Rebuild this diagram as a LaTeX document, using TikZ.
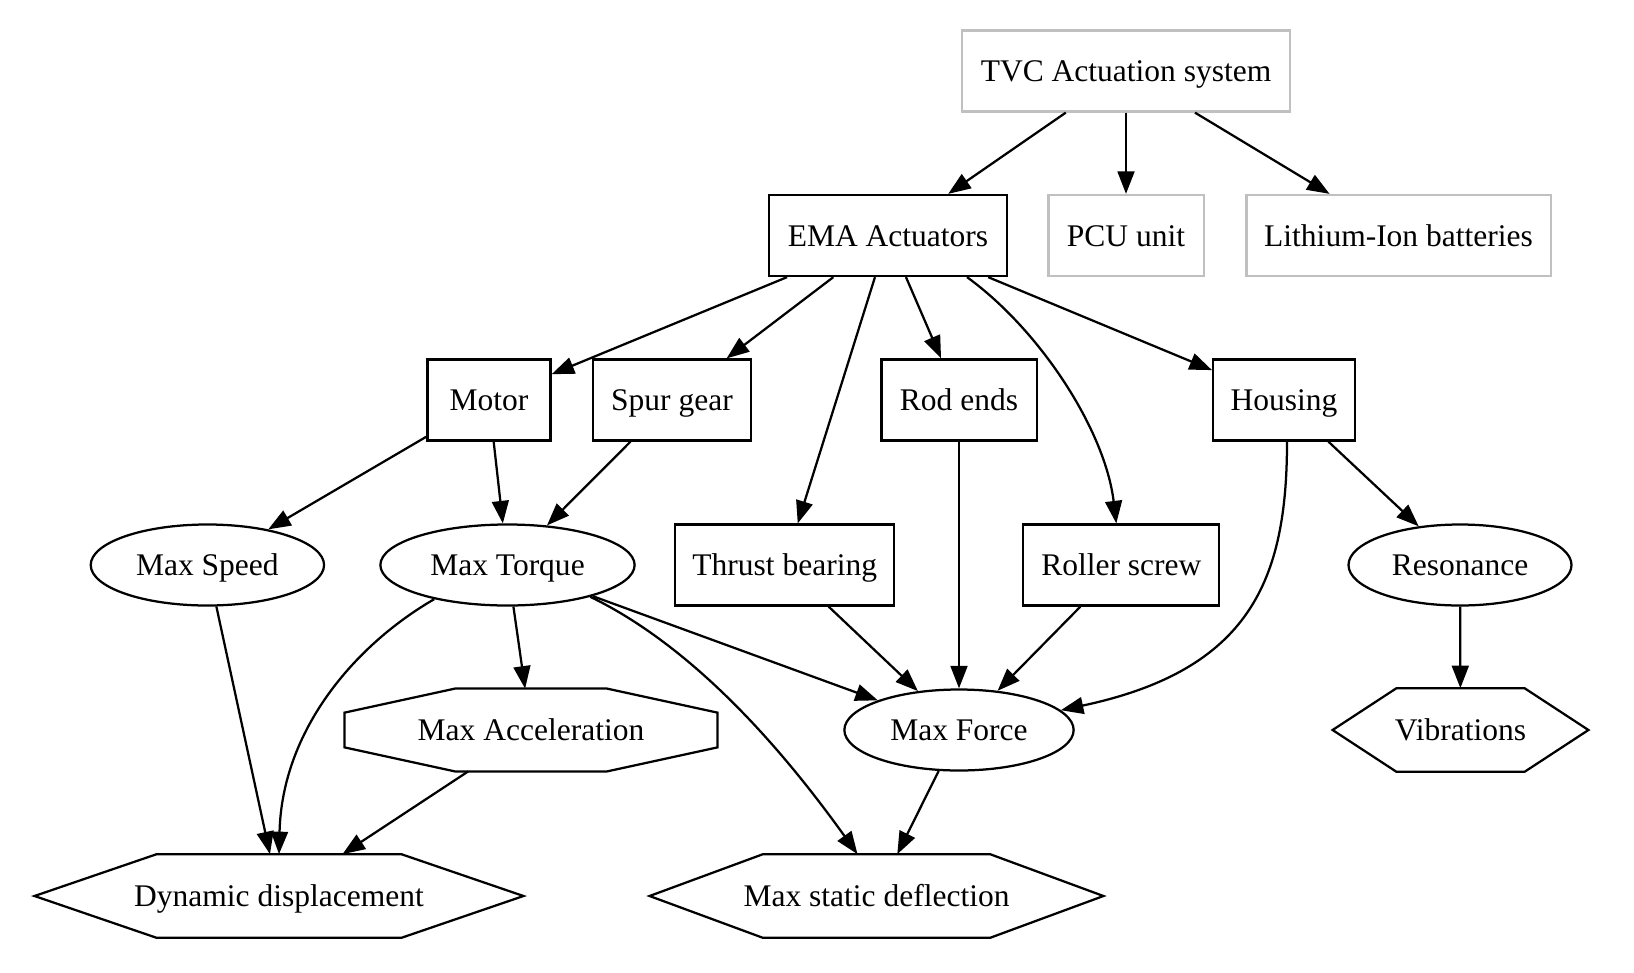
\documentclass[tikz,border=0pt]{standalone}
\usepackage{fontspec}
\setmainfont{Liberation Serif}
\usetikzlibrary{arrows.meta,calc,shapes.geometric}
\definecolor{boxgray}{RGB}{192,192,192}
\begin{document}
\begin{tikzpicture}[x=0.4444pt,y=-0.4444pt,
  every node/.style={font=\fontsize{14}{16}\selectfont,inner sep=0pt,minimum height=36pt,text height=12pt,text depth=2.6pt},
  box/.style={draw,rectangle,line width=1pt},
  graybox/.style={box,draw=boxgray},
  oval/.style={draw,ellipse,line width=1pt},
  polybox/.style={rectangle,minimum height=36.8pt},
  link/.style={-{Triangle[length=10pt,width=7.5pt]},line width=1pt}]
\useasboundingbox (0,0) rectangle (1634,972);
  \node (tvc) at (1126,71) [graybox,minimum width=145.8pt] {TVC Actuation system};
  \node (ema) at (888,235.5) [box,minimum width=105.6pt] {EMA Actuators};
  \node (pcu) at (1126,235.5) [graybox,minimum width=69pt] {PCU unit};
  \node (bat) at (1398.5,235.5) [graybox,minimum width=135.2pt] {Lithium-Ion batteries};
  \node (motor) at (489,400) [box,minimum width=54.7pt] {Motor};
  \node (spur) at (672,400) [box,minimum width=70.4pt] {Spur gear};
  \node (rod) at (959,400) [box,minimum width=69pt] {Rod ends};
  \node (housing) at (1284,400) [box,minimum width=63pt] {Housing};
  \node (speed) at (207.4,565) [oval,minimum width=103.7pt] {Max Speed};
  \node (torque) at (507.5,565) [oval,minimum width=113pt] {Max Torque};
  \node (thrust) at (784.7,565) [box,minimum width=97.2pt] {Thrust bearing};
  \node (roller) at (1121.3,565) [box,minimum width=87.1pt] {Roller screw};
  \node (resonance) at (1460,565) [oval,minimum width=99.1pt] {Resonance};
  \node (accel) at (531,730) [polybox,minimum width=165.3pt,minimum height=36.4pt] {Max Acceleration};
  \node (force) at (959,730) [oval,minimum width=101.9pt] {Max Force};
  \node (vib) at (1460.5,730) [polybox,minimum width=113.3pt] {Vibrations};
  \node (dyn) at (279,896) [polybox,minimum width=216.9pt] {Dynamic displacement};
  \node (defl) at (876.5,896) [polybox,minimum width=201.3pt] {Max static deflection};
  \foreach \n in {dyn,defl,vib}
    \draw [line width=1pt] (\n.west) -- ($(\n.north west)!.25!(\n.north east)$) -- ($(\n.north west)!.75!(\n.north east)$) -- (\n.east) -- ($(\n.south west)!.75!(\n.south east)$) -- ($(\n.south west)!.25!(\n.south east)$) -- cycle;
  \draw [line width=1pt] ($(accel.north west)!.29!(accel.south west)$) -- ($(accel.north west)!.296!(accel.north east)$) -- ($(accel.north west)!.704!(accel.north east)$) -- ($(accel.north east)!.29!(accel.south east)$) -- ($(accel.north east)!.71!(accel.south east)$) -- ($(accel.south west)!.704!(accel.south east)$) -- ($(accel.south west)!.296!(accel.south east)$) -- ($(accel.north west)!.71!(accel.south west)$) -- cycle;
  \draw [link] (tvc) -- (ema);
  \draw [link] (tvc) -- (pcu);
  \draw [link] (tvc) -- (bat);
  \draw [link] (ema) -- (motor);
  \draw [link] (ema) -- (spur);
  \draw [link] (ema) -- (thrust);
  \draw [link] (ema) -- (rod);
  \draw [link] ($(ema.south)+(79,0)$) .. controls (1040,330) and (1105,430) .. ($(roller.north)+(-5,0)$);
  \draw [link] (ema) -- (housing);
  \draw [link] (motor) -- (speed);
  \draw [link] (motor) -- (torque);
  \draw [link] (spur) -- (torque);
  \draw [link] (rod) -- (force);
  \draw [link] ($(housing.south)+(3,0)$) .. controls (1287,580) and (1250,670) .. (force.11);
  \draw [link] (housing) -- (resonance);
  \draw [link] (speed) -- (dyn);
  \draw [link] (torque.-155) .. controls (355,645) and (282,730) .. (dyn.north);
  \draw [link] (torque) -- (accel);
  \draw [link] (torque) -- (force);
  \draw [link] (torque.-21) .. controls (700,650) and (790,760) .. ($(defl.north)+(-19,0)$);
  \draw [link] (thrust) -- (force);
  \draw [link] (roller) -- (force);
  \draw [link] (accel) -- (dyn);
  \draw [link] (force) -- (defl);
  \draw [link] (resonance) -- (vib);
\end{tikzpicture}
\end{document}
